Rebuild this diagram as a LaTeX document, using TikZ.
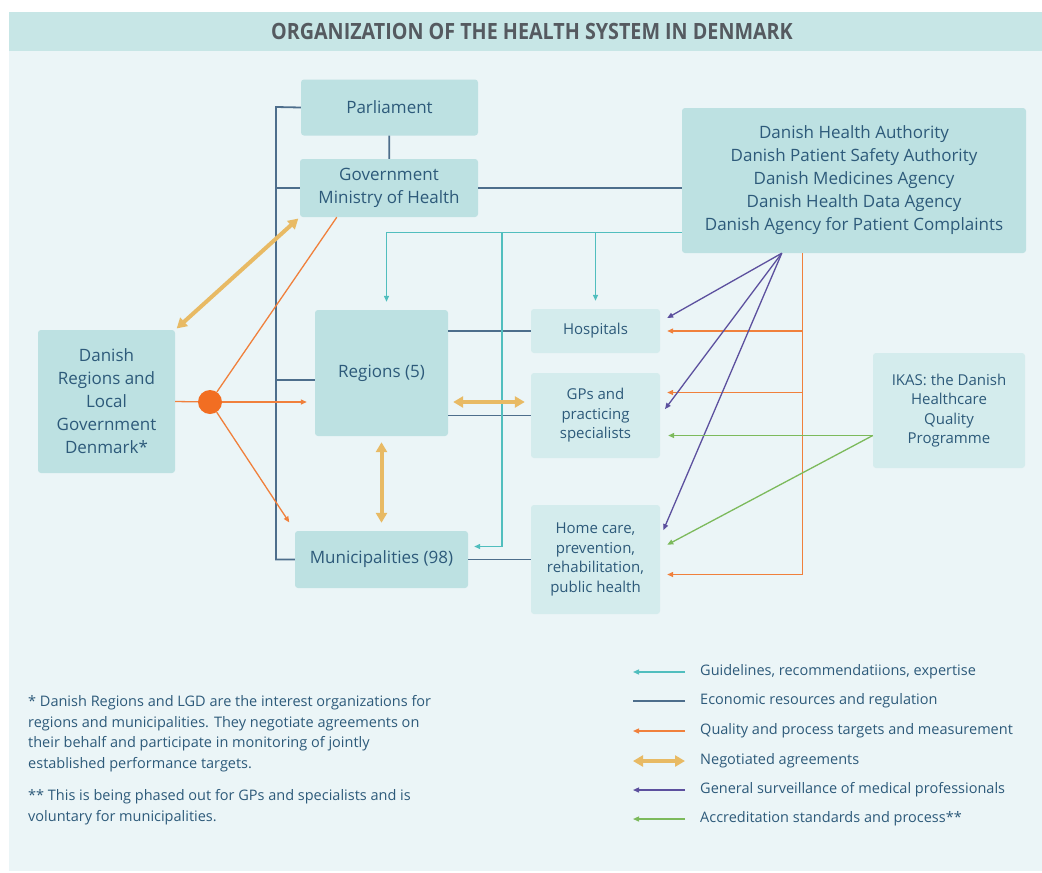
\documentclass[tikz,border=0pt]{standalone}
\usepackage{fontspec}
\setmainfont{Open Sans}
\newfontfamily\titlefont[FakeStretch=0.88]{Open Sans}
\usepackage{xcolor}
\usepackage{tikz}
\usetikzlibrary{arrows.meta}
\definecolor{bandteal}{RGB}{199,230,230}
\definecolor{paleback}{RGB}{235,245,247}
\definecolor{boxdark}{RGB}{189,225,226}
\definecolor{boxlight}{RGB}{212,236,237}
\definecolor{inkblue}{RGB}{45,90,122}
\definecolor{titlegray}{RGB}{85,90,96}
\definecolor{econblue}{RGB}{77,110,140}
\definecolor{guideteal}{RGB}{80,190,190}
\definecolor{qualorange}{RGB}{240,128,60}
\definecolor{negogold}{RGB}{232,186,100}
\definecolor{survpurple}{RGB}{92,80,158}
\definecolor{accrgreen}{RGB}{124,186,92}
\definecolor{huborange}{RGB}{242,110,34}

\begin{document}
\begin{tikzpicture}[x=1pt, y=-1pt,
    box/.style={rectangle, rounded corners=3pt, fill=boxdark, text=inkblue, align=center, inner sep=0pt, font=\fontsize{17}{23}\selectfont},
    subbox/.style={box, fill=boxlight, font=\fontsize{15}{19.5}\selectfont},
    econ/.style={draw=econblue, line width=1.8pt},
    guide/.style={draw=guideteal, line width=1.3pt, -{Triangle[length=6pt,width=5pt]}},
    qual/.style={draw=qualorange, line width=1.3pt, -{Triangle[length=6pt,width=5pt]}},
    nego/.style={draw=negogold, line width=4pt, {Triangle[length=10pt,width=11pt]}-{Triangle[length=10pt,width=11pt]}},
    surv/.style={draw=survpurple, line width=1.3pt, -{Triangle[length=6pt,width=5pt]}},
    accr/.style={draw=accrgreen, line width=1.3pt, -{Triangle[length=6pt,width=5pt]}},
    legtext/.style={text=inkblue, anchor=west, inner sep=0pt, font=\fontsize{14.5}{18}\selectfont},
    notetext/.style={text=inkblue, anchor=north west, align=left, inner sep=0pt, font=\fontsize{14.5}{20.7}\selectfont},
]
    \useasboundingbox (0,0) rectangle (1042,873);
    % Background and title band
    \fill[white] (0,0) rectangle (1042,873);
    \fill[paleback] (9,12) rectangle (1042,871);
    \fill[bandteal] (9,12) rectangle (1042,51);
    \node[font=\titlefont\bfseries\fontsize{22.4}{22.4}\selectfont, text=titlegray] (title) at (532,31) {ORGANIZATION OF THE HEALTH SYSTEM IN DENMARK};

    % State level
    \node[box, minimum width=177, minimum height=56] (parl) at (389.5,107.5) {Parliament};
    \node[box, minimum width=178, minimum height=58] (gov) at (389,188) {Government\\Ministry of Health};
    \node[box, minimum width=344, minimum height=145] (agency) at (854,180.5) {Danish Health Authority\\Danish Patient Safety Authority\\Danish Medicines Agency\\Danish Health Data Agency\\Danish Agency for Patient Complaints};
    \node[box, minimum width=137, minimum height=143] (drlgd) at (106.5,401.5) {Danish\\Regions and\\Local\\Government\\Denmark*};
    % Regions and municipalities
    \node[box, minimum width=133, minimum height=126] (regions) at (381.5,373) {Regions (5)};
    \node[box, minimum width=173, minimum height=57] (munic) at (381.5,559.5) {Municipalities (98)};
    % Providers
    \node[subbox, minimum width=129, minimum height=44] (hosp) at (595.5,331) {Hospitals};
    \node[subbox, minimum width=129, minimum height=85] (gps) at (595.5,415.5) {GPs and\\practicing\\specialists};
    \node[subbox, minimum width=129, minimum height=109] (home) at (595.5,559.5) {Home care,\\prevention,\\rehabilitation,\\public health};
    \node[subbox, minimum width=152, minimum height=115] (ikas) at (949,410.5) {IKAS: the Danish\\Healthcare\\Quality\\Programme};
    \node[circle, fill=huborange, minimum size=24, inner sep=0pt] (hub) at (210,402) {};

    % Economic resources and regulation
    \coordinate (spine) at (276,107);
    \coordinate (regw) at ([yshift=-7pt]regions.west);
    \draw[econ] (parl.west) -- (spine) |- (munic.west);
    \draw[econ] (gov.west) -- (gov.west -| spine);
    \draw[econ] (regw) -- (regw -| spine);
    \draw[econ] (parl) -- (gov);
    \draw[econ] (gov.east) -- (gov.east -| agency.west);
    \draw[econ] (regions.east |- hosp) -- (hosp.west);
    \draw[econ] (regions.east |- gps) -- (gps.west);
    \draw[econ] (munic) -- (home);

    % Guidelines
    \coordinate (gline) at ([yshift=21pt]agency.south west);
    \coordinate (gdrop) at (502,232);
    \coordinate (munguide) at ([yshift=13pt]munic.east);
    \draw[guide, shorten >=8pt] (gline) -| ([xshift=5pt]regions.north);
    \draw[guide, shorten >=8pt] (gline -| hosp) -- (hosp.north);
    \draw[guide, shorten >=6pt] (gdrop) |- (munguide);

    % Quality targets
    \coordinate (govq) at ([xshift=37pt]gov.south west);
    \coordinate (qdrop) at ([xshift=121pt]agency.south west);
    \coordinate (gpsq) at ([yshift=23pt]gps.east);
    \coordinate (homeq) at ([yshift=-15pt]home.east);
    \draw[qual, -] (drlgd.east) -- (hub);
    \draw[qual, -] (hub) -- (govq);
    \draw[qual, shorten >=8pt] (hub) -- (hub -| regions.west);
    \draw[qual, shorten >=10pt] (hub) -- (munic.north west);
    \draw[qual, shorten >=7pt] (qdrop) |- (homeq);
    \draw[qual, shorten >=7pt] (qdrop |- hosp) -- (hosp.east);
    \draw[qual, shorten >=7pt] (qdrop |- gpsq) -- (gpsq);

    % Surveillance
    \coordinate (sv) at ([xshift=100pt]agency.south west);
    \draw[surv, shorten >=8pt] (sv) -- ([yshift=9pt]hosp.east);
    \draw[surv, shorten >=8pt] (sv) -- (gps.east);
    \draw[surv, shorten >=8pt] (sv) -- ([yshift=22pt]home.east);

    % Accreditation
    \coordinate (ik) at ([yshift=-25pt]ikas.west);
    \draw[accr, shorten >=8pt] (ik) -- (ik -| gps.east);
    \draw[accr, shorten >=8pt] (ik) -- ([yshift=11pt]home.east);

    % Negotiated agreements
    \draw[nego, shorten <=2pt, shorten >=2pt] (drlgd.north east) -- (gov.south west);
    \draw[nego, shorten <=5pt, shorten >=6pt] (regions.east |- hub) -- (gps.west |- hub);
    \draw[nego, shorten <=6pt, shorten >=8pt] (regions.south) -- (munic.north);

    % Legend
    \foreach \sty/\ypos/\txt [count=\i] in {guide/672/{Guidelines, recommendatiions, expertise},
        econ/701/{Economic resources and regulation},
        qual/731/{Quality and process targets and measurement},
        nego/761/{Negotiated agreements},
        surv/790/{General surveillance of medical professionals},
        accr/819/{Accreditation standards and process**}} {
        \node[legtext] (leg\i) at (700,\ypos) {\txt};
        \draw[\sty] ([xshift=-15pt]leg\i.west) -- ++(-52,0);
    }

    % Footnotes
    \node[notetext] (note1) at (28,695) {* Danish Regions and LGD are the interest organizations for\\regions and municipalities. They negotiate agreements on\\their behalf and participate in monitoring of jointly\\established performance targets.};
    \node[notetext] (note2) at (28,789) {** This is being phased out for GPs and specialists and is\\voluntary for municipalities.};
\end{tikzpicture}
\end{document}
